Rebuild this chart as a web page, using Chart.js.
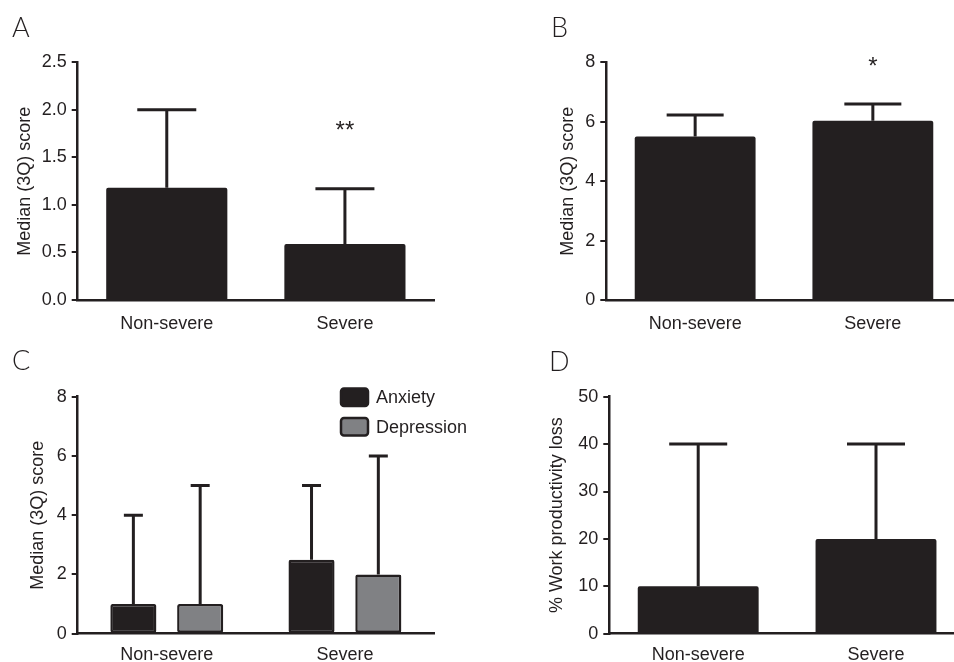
<!DOCTYPE html>
<html><head><meta charset="utf-8">
<script src="https://cdn.jsdelivr.net/npm/chart.js@4.4.1/dist/chart.umd.min.js"></script>
<style>
html,body{margin:0;padding:0;background:#fff;width:954px;height:662px;overflow:hidden;position:relative}
.panel{position:absolute;overflow:visible}
.lbl{position:absolute;font-family:Lato,"Open Sans",sans-serif;font-weight:300;font-size:27px;color:#231f20;line-height:27px}
canvas{display:block}
</style></head><body>
<div class="panel" style="left:0;top:0"><canvas id="cA" width="477" height="331"></canvas></div>
<div class="panel" style="left:477px;top:0"><canvas id="cB" width="490" height="331"></canvas></div>
<div class="panel" style="left:0;top:331px"><canvas id="cC" width="477" height="331"></canvas></div>
<div class="panel" style="left:477px;top:331px"><canvas id="cD" width="495" height="331"></canvas></div>
<div class="lbl" style="left:12px;top:13px">A</div>
<div class="lbl" style="left:551px;top:13px">B</div>
<div class="lbl" style="left:12px;top:346px">C</div>
<div class="lbl" style="left:549px;top:347px">D</div>
<script>
// ---- data ----
const categories = ['Non-severe', 'Severe'];
const seriesLabels = ['Anxiety', 'Depression'];

const aMedian = [1.18, 0.59];
const aQ3 = [2.0, 1.17];
const aSig = ['', '**'];
const aSigAt = [null, 1.7];

const bMedian = [5.5, 6.03];
const bQ3 = [6.23, 6.6];
const bSig = ['', '*'];
const bSigAt = [null, 7.6];

const cAnxietyMedian = [1.0, 2.5];
const cAnxietyQ3 = [4, 5];
const cDepressionMedian = [1.0, 2.0];
const cDepressionQ3 = [5, 6];

const dMedian = [10, 20];
const dQ3 = [40, 40];

const aTicks = {min: 0, max: 2.5, step: 0.5, decimals: 1};
const bTicks = {min: 0, max: 8, step: 2, decimals: 0};
const cTicks = {min: 0, max: 8, step: 2, decimals: 0};
const dTicks = {min: 0, max: 50, step: 10, decimals: 0};

const INK = '#231f20';
const GREY = '#808184';
const FONT = '"Liberation Sans", Arial, Helvetica, sans-serif';

// ---- plugins ----
const errorBars = {
  id: 'errorBars',
  afterDatasetsDraw(chart, args, opts) {
    const ctx = chart.ctx, y = chart.scales.y;
    chart.data.datasets.forEach((ds, di) => {
      if (!ds.q3) return;
      const meta = chart.getDatasetMeta(di);
      meta.data.forEach((bar, i) => {
        const top = y.getPixelForValue(ds.q3[i]);
        ctx.save();
        ctx.strokeStyle = INK; ctx.lineWidth = opts.lineWidth; ctx.lineCap = 'butt';
        ctx.beginPath();
        ctx.moveTo(bar.x, bar.y); ctx.lineTo(bar.x, top - opts.lineWidth / 2);
        ctx.moveTo(bar.x - opts.capWidth / 2, top); ctx.lineTo(bar.x + opts.capWidth / 2, top);
        ctx.stroke();
        ctx.restore();
      });
    });
  }
};
const sigMarks = {
  id: 'sigMarks',
  afterDatasetsDraw(chart, args, opts) {
    const ctx = chart.ctx, y = chart.scales.y;
    chart.data.datasets.forEach((ds, di) => {
      if (!ds.sig) return;
      const meta = chart.getDatasetMeta(di);
      meta.data.forEach((bar, i) => {
        if (!ds.sig[i]) return;
        ctx.save();
        ctx.fillStyle = INK; ctx.font = opts.size + 'px ' + FONT;
        ctx.textAlign = 'center'; ctx.textBaseline = 'alphabetic';
        ctx.fillText(ds.sig[i], bar.x, y.getPixelForValue(ds.sigAt[i]));
        ctx.restore();
      });
    });
  }
};
const boxLegend = {
  id: 'boxLegend',
  afterDraw(chart, args, opts) {
    if (!opts.show) return;
    const ctx = chart.ctx;
    chart.data.datasets.forEach((ds, i) => {
      const x = opts.x, y = opts.y + i * opts.gap;
      ctx.save();
      ctx.fillStyle = ds.backgroundColor; ctx.strokeStyle = INK; ctx.lineWidth = 2.5;
      ctx.beginPath(); ctx.roundRect(x, y, opts.w, opts.h, 3); ctx.fill(); ctx.stroke();
      ctx.fillStyle = INK; ctx.font = '18px ' + FONT; ctx.textAlign = 'left'; ctx.textBaseline = 'middle';
      ctx.fillText(ds.label, x + opts.w + 8, y + opts.h / 2 + 1);
      ctx.restore();
    });
  }
};

function makePanel(id, p) {
  return new Chart(document.getElementById(id), {
    type: 'bar',
    data: {labels: categories, datasets: p.datasets},
    plugins: [errorBars, sigMarks, boxLegend],
    options: {
      responsive: false, animation: false,
      layout: {padding: {top: p.padTop, right: p.padRight, left: 0, bottom: 0}},
      plugins: {
        legend: {display: false}, tooltip: {enabled: false},
        errorBars: {capWidth: p.capWidth, lineWidth: 3},
        sigMarks: {size: 24},
        boxLegend: p.legend || {show: false}
      },
      scales: {
        x: {
          grid: {display: false, drawTicks: false},
          border: {display: true, color: INK, width: 2.5},
          ticks: {color: INK, font: {family: FONT, size: 18}, padding: p.xPad},
          afterFit(s) { s.height = p.xHeight; }
        },
        y: {
          min: p.ticks.min, max: p.ticks.max,
          grid: {display: true, drawOnChartArea: false, drawTicks: true, tickLength: 6, color: INK, lineWidth: 2},
          border: {display: true, color: INK, width: 2.5},
          ticks: {stepSize: p.ticks.step, color: INK, font: {family: FONT, size: 18}, padding: 5,
                  callback: v => Number(v).toFixed(p.ticks.decimals)},
          title: {display: true, text: p.title, color: INK, font: {family: FONT, size: 18},
                  padding: {top: p.titlePad, bottom: 0}},
          afterFit(s) { s.width = p.yWidth; }
        }
      }
    }
  });
}

const blackBar = (data, q3, sig, sigAt) => ({
  label: 'Median', data, q3, sig, sigAt,
  backgroundColor: INK, borderColor: INK, borderWidth: 0, borderRadius: 2,
  barPercentage: 0.68, categoryPercentage: 1.0
});

makePanel('cA', {
  datasets: [blackBar(aMedian, aQ3, aSig, aSigAt)],
  ticks: aTicks, title: 'Median (3Q) score', titlePad: 14,
  yWidth: 77.7, padTop: 62.3, padRight: 43, xHeight: 31, xPad: 13, capWidth: 59
});
makePanel('cB', {
  datasets: [blackBar(bMedian, bQ3, bSig, bSigAt)],
  ticks: bTicks, title: 'Median (3Q) score', titlePad: 80,
  yWidth: 129.3, padTop: 62.3, padRight: 5.3, xHeight: 31, xPad: 13, capWidth: 57
});
makePanel('cC', {
  datasets: [
    {label: seriesLabels[0], data: cAnxietyMedian, q3: cAnxietyQ3, backgroundColor: INK, borderColor: INK,
     borderWidth: 2.5, borderSkipped: false, borderRadius: 2, barPercentage: 0.69, categoryPercentage: 0.75},
    {label: seriesLabels[1], data: cDepressionMedian, q3: cDepressionQ3, backgroundColor: GREY, borderColor: INK,
     borderWidth: 2.5, borderSkipped: false, borderRadius: 2, barPercentage: 0.69, categoryPercentage: 0.75}
  ],
  ticks: cTicks, title: 'Median (3Q) score', titlePad: 27,
  yWidth: 77.7, padTop: 65.7, padRight: 43, xHeight: 28.3, xPad: 11, capWidth: 19,
  legend: {show: true, x: 341, y: 57.5, w: 27, h: 17.5, gap: 29.5}
});
makePanel('cD', {
  datasets: [blackBar(dMedian, dQ3, null, null)],
  ticks: dTicks, title: '% Work productivity loss', titlePad: 69,
  yWidth: 132.3, padTop: 65.7, padRight: 7.1, xHeight: 28.3, xPad: 11, capWidth: 58
});
</script>
</body></html>
